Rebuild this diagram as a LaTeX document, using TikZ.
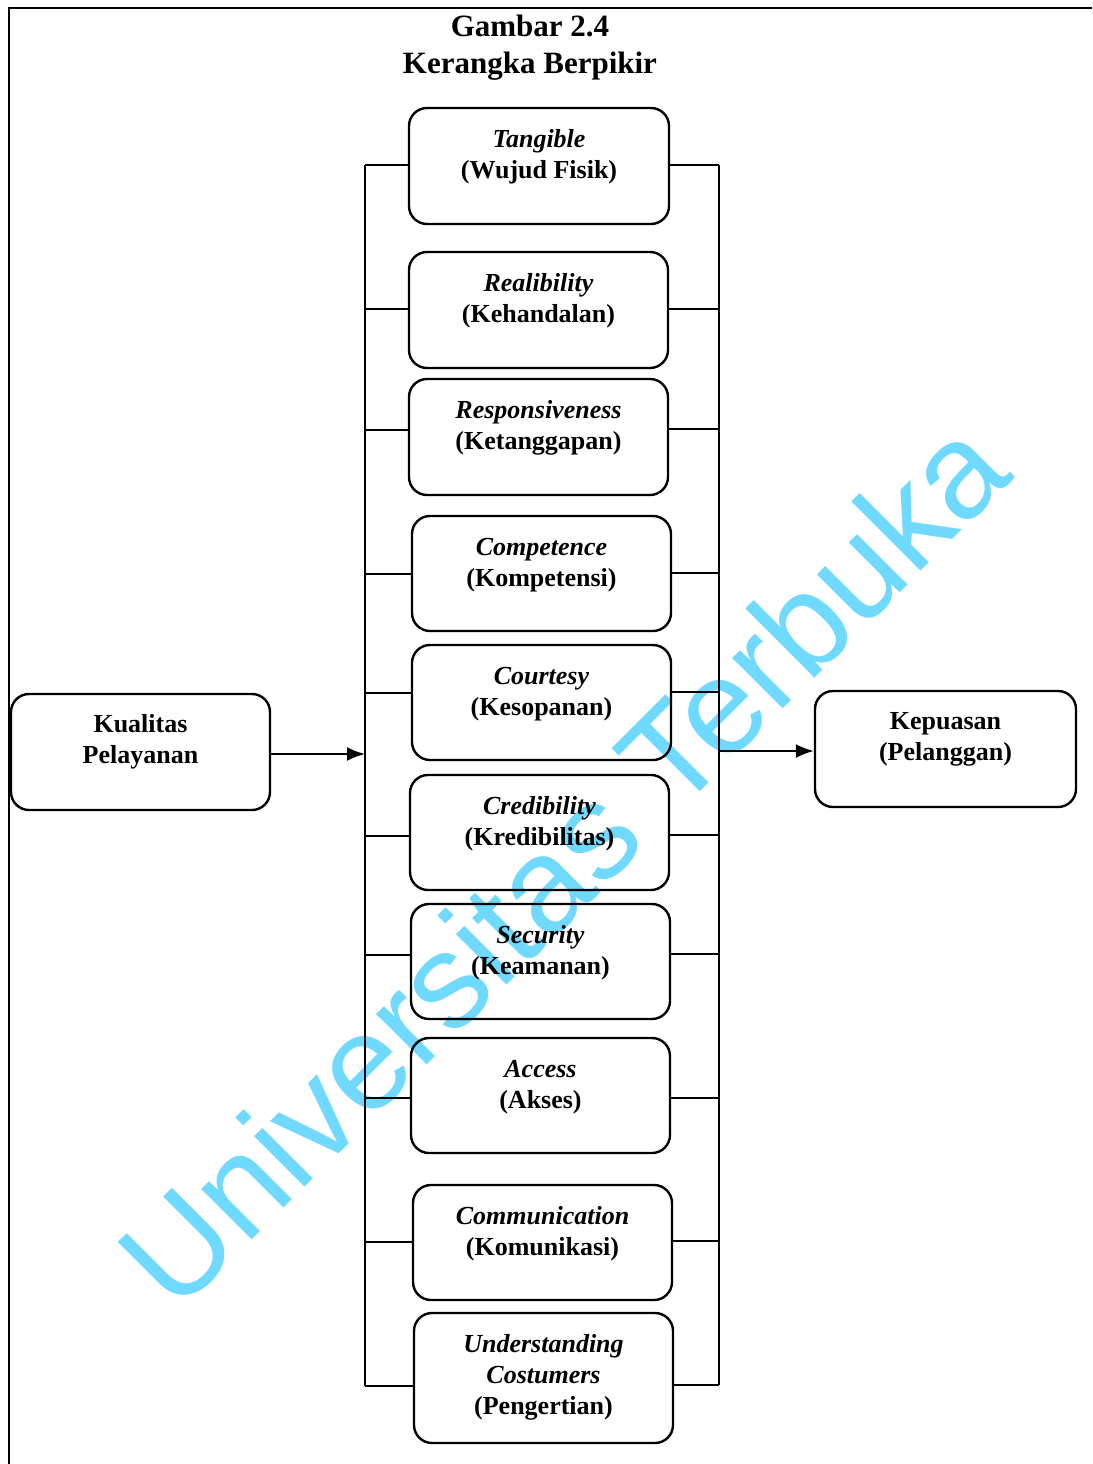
\documentclass[tikz,border=0pt]{standalone}
\usepackage{fontspec}
\setmainfont{Liberation Serif}
\newfontfamily\wmfont{Liberation Sans}
\usetikzlibrary{arrows.meta}
\definecolor{wmblue}{RGB}{112,217,255}
\tikzset{
  box/.style={draw, line width=2.4pt, rounded corners=18pt, inner sep=0pt},
  lbl/.style={align=center, inner sep=0pt, font=\fontsize{26}{31}\selectfont\bfseries},
  link/.style={draw, line width=2pt},
  arr/.style={draw, line width=2pt, -{Latex[length=18pt,width=14pt]}},
  frame/.style={draw, line width=2.8pt},
}
\newcommand{\en}[1]{\textit{#1}}
\begin{document}
\begin{tikzpicture}[x=1pt,y=-1pt]
\useasboundingbox (0,0) rectangle (1092,1464);

% watermark, laid down first so the black strokes stay on top
\node[rotate=45, text=wmblue, inner sep=0pt, font=\wmfont\fontsize{135}{135}\selectfont]
  (wm) at (562,862) {Universitas Terbuka};

% page frame
\draw[frame] (9,1464) -- (9,8) -- (1092,8);

% title
\node[align=center, inner sep=0pt, font=\fontsize{31}{37}\selectfont\bfseries]
  (title) at (530,48) {Gambar 2.4\\Kerangka Berpikir};

% outer boxes
\node[box, minimum width=259pt, minimum height=116pt] (kual) at (140.5,752) {};
\node[lbl] (kualt) at (140.5,742) {Kualitas\\Pelayanan};
\node[box, minimum width=261pt, minimum height=116pt] (kep) at (945.5,749) {};
\node[lbl] (kept) at (945.5,739) {Kepuasan\\(Pelanggan)};

% dimension boxes
\node[box, minimum width=260pt, minimum height=116pt] (b1) at (539,166) {};
\node[lbl] (t1) at (539,157) {\en{Tangible}\\(Wujud Fisik)};
\node[box, minimum width=259pt, minimum height=116pt] (b2) at (538.5,310) {};
\node[lbl] (t2) at (538.5,301) {\en{Realibility}\\(Kehandalan)};
\node[box, minimum width=259pt, minimum height=116pt] (b3) at (538.5,437) {};
\node[lbl] (t3) at (538.5,428) {\en{Responsiveness}\\(Ketanggapan)};
\node[box, minimum width=259pt, minimum height=115pt] (b4) at (541.5,573.5) {};
\node[lbl] (t4) at (541.5,565) {\en{Competence}\\(Kompetensi)};
\node[box, minimum width=259pt, minimum height=115pt] (b5) at (541.5,702.5) {};
\node[lbl] (t5) at (541.5,694) {\en{Courtesy}\\(Kesopanan)};
\node[box, minimum width=259pt, minimum height=115pt] (b6) at (539.5,832.5) {};
\node[lbl] (t6) at (539.5,824) {\en{Credibility}\\(Kredibilitas)};
\node[box, minimum width=259pt, minimum height=115pt] (b7) at (540.5,961.5) {};
\node[lbl] (t7) at (540.5,953) {\en{Security}\\(Keamanan)};
\node[box, minimum width=259pt, minimum height=115pt] (b8) at (540.5,1095.5) {};
\node[lbl] (t8) at (540.5,1087) {\en{Access}\\(Akses)};
\node[box, minimum width=259pt, minimum height=115pt] (b9) at (542.5,1242.5) {};
\node[lbl] (t9) at (542.5,1234) {\en{Communication}\\(Komunikasi)};
\node[box, minimum width=259pt, minimum height=130pt] (b10) at (543.5,1378) {};
\node[lbl] (t10) at (543.5,1377) {\en{Understanding}\\\en{Costumers}\\(Pengertian)};

% bus points on the left and right rails
\foreach \i/\yl/\yr in {1/165/165, 2/309/309, 3/430/429, 4/574/573, 5/693/692,
                        6/836/835, 7/955/954, 8/1098/1098, 9/1242/1241, 10/1386/1385} {
  \coordinate (L\i) at (365,\yl);
  \coordinate (R\i) at (719,\yr);
}
\draw[link] (L1) -- (L10);
\draw[link] (R1) -- (R10);
\foreach \i in {1,...,10} {
  \draw[link] (L\i) -- (L\i -| b\i.west);
  \draw[link] (b\i.east |- R\i) -- (R\i);
}

% flow arrows
\coordinate (inL) at (365,754);
\coordinate (outR) at (719,751);
\draw[arr] (kual.east |- inL) -- (inL);
\draw[arr] (outR) -- (outR -| kep.west);
\end{tikzpicture}
\end{document}
